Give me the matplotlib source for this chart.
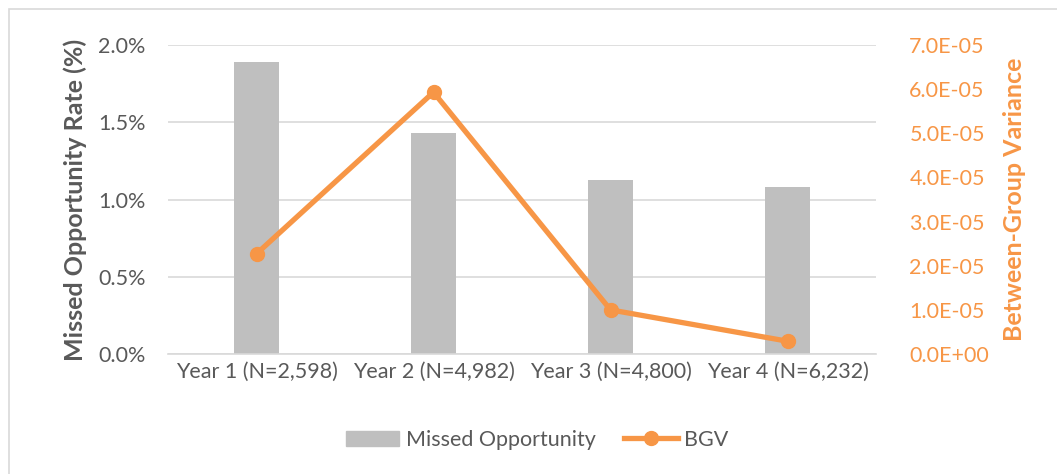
import matplotlib.pyplot as plt
from matplotlib.patches import Rectangle
from matplotlib.lines import Line2D
from matplotlib.ticker import FuncFormatter

# 数据
years = ["Year 1 (N=2,598)", "Year 2 (N=4,982)", "Year 3 (N=4,800)", "Year 4 (N=6,232)"]
missed_rate = [1.89, 1.43, 1.125, 1.08]          # %
bgv = [2.27e-5, 5.93e-5, 1.0e-5, 0.29e-5]

# 颜色
gray_bar = "#BFBFBF"
orange = "#F79646"
text_gray = "#595959"
grid_gray = "#D9D9D9"

plt.rcParams['font.family'] = ['Lato', 'DejaVu Sans']

fig = plt.figure(figsize=(10.57, 4.74), dpi=100, facecolor="white")
ax = fig.add_axes([168 / 1057, 120 / 474, 708 / 1057, 309 / 474])
x = list(range(len(years)))

ax.bar(x, missed_rate, width=0.25, color=gray_bar, zorder=2)
ax.set_xlim(-0.5, 3.5)
ax.set_ylim(0, 2.0)
ax.set_yticks([0, 0.5, 1.0, 1.5, 2.0])
ax.yaxis.set_major_formatter(FuncFormatter(lambda v, p: "%.1f%%" % v))
ax.set_xticks(x)
ax.set_xticklabels(years)
ax.grid(axis="y", color=grid_gray, linewidth=1.2, zorder=0)
for s in ["top", "left", "right"]:
    ax.spines[s].set_visible(False)
ax.spines["bottom"].set_color(grid_gray)
ax.spines["bottom"].set_linewidth(1.2)
ax.tick_params(axis="both", length=0, labelsize=15.5, labelcolor=text_gray)
ax.tick_params(axis="y", pad=16)
ax.tick_params(axis="x", pad=6)
ax.set_ylabel("Missed Opportunity Rate (%)", fontsize=18, fontweight="bold",
              color=text_gray, labelpad=8)

ax2 = ax.twinx()
ax2.plot(x, bgv, color=orange, linewidth=3.8, marker="o", markersize=10, zorder=3)
ax2.set_ylim(0, 7e-5)
ax2.set_yticks([i * 1e-5 for i in range(8)])
ax2.yaxis.set_major_formatter(FuncFormatter(lambda v, p: "%.1E" % v))
for s in ["top", "left", "right", "bottom"]:
    ax2.spines[s].set_visible(False)
ax2.tick_params(axis="y", length=0, labelsize=15.5, labelcolor=orange, pad=24)
ax2.set_ylabel("Between-Group Variance", fontsize=18, fontweight="bold",
               color=orange, labelpad=10)

# 图例
handles = [Rectangle((0, 0), 1, 1, color=gray_bar),
           Line2D([0], [0], color=orange, linewidth=3.8, marker="o", markersize=10)]
fig.legend(handles, ["Missed Opportunity", "BGV"], loc="center",
           bbox_to_anchor=(537 / 1057, 1 - 440 / 474), ncol=2, frameon=False,
           fontsize=15.5, labelcolor=text_gray, handlelength=2.5, columnspacing=1.3,
           handletextpad=0.3)

# 外框
fig.patches.append(Rectangle((9 / 1057, -0.1), 1.2, 1.1 - 9 / 474, transform=fig.transFigure,
                             fill=False, edgecolor=grid_gray, linewidth=1.2))

fig.savefig("out.png", dpi=100)
